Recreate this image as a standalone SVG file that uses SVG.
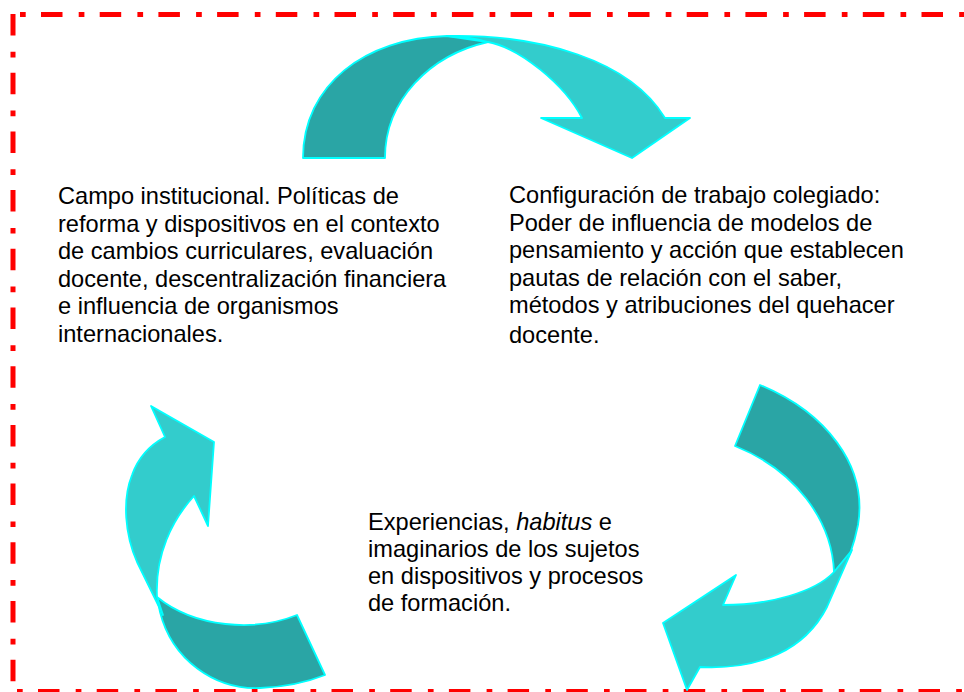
<svg xmlns="http://www.w3.org/2000/svg" width="964" height="692" viewBox="0 0 964 692">
<style>
.brd{stroke:#FF0000;stroke-width:5;fill:none}
.dk{fill:#2AA5A5;stroke:#00FFFF;stroke-width:1.8;stroke-linejoin:round}
.lt{fill:#33CCCC;stroke:#00FFFF;stroke-width:1.8;stroke-linejoin:round}
.t{font-family:"Liberation Sans",Arial,sans-serif;font-size:23.6px;fill:#000}
</style>
<rect width="964" height="692" fill="#fff"/>
<g id="border">
<line class="brd" x1="20" y1="14.5" x2="964" y2="14.5" stroke-dasharray="5.7 15.3 21.5 16.2"/>
<line class="brd" x1="13" y1="14" x2="13" y2="692" stroke-dasharray="21.5 16.3 5.7 15.2"/>
<line class="brd" x1="17" y1="691.5" x2="964" y2="691.5" stroke-dasharray="5.7 15.3 21.5 16.2"/>
</g>
<g id="connectors">
<g id="arrow-top">
<path class="dk" d="M303,158 C303,85 365,38 447,36 L488,42 C430,55 385,100 385,158 Z"/>
<path class="lt" d="M447,36 C540,34 630,60 665,118 L690,118 L632,158 L541,118 L582,118 C565,85 520,48 488,42 Q470,37 447,36 Z"/>
</g>
<g id="arrow-right">
<path class="dk" d="M760,385 C825,412 868,465 858,525 Q855,540 850,554 L834,572 C832,520 795,470 735,446 Z"/>
<path class="lt" d="M852,550 L827,607 C805,650 760,670 700,667 L687,690 L663,623 L736,575 L723,605 C770,605 815,592 834,572 Z"/>
</g>
<g id="arrow-left">
<path class="dk" d="M297,615 C255,632 195,628 157,597 L160,612 C172,660 215,690 260,688 C285,687 305,683 325,675 Z"/>
<path class="lt" d="M163,615 L137,562 C125,535 122,500 132,475 C138,458 150,445 165,437 L151,406 L214,442 L208,526 L194,496 C172,520 155,555 157,597 Z"/>
</g>
</g>
<g id="node-institucional">
<text class="t" x="58" y="204">Campo institucional. Políticas de</text>
<text class="t" x="58" y="231.5">reforma y dispositivos en el contexto</text>
<text class="t" x="58" y="259">de cambios curriculares, evaluación</text>
<text class="t" x="58" y="286.5">docente, descentralización financiera</text>
<text class="t" x="58" y="314">e influencia de organismos</text>
<text class="t" x="58" y="341.5">internacionales.</text>
</g>
<g id="node-colegiado">
<text class="t" x="509" y="203">Configuración de trabajo colegiado:</text>
<text class="t" x="509" y="230.5">Poder de influencia de modelos de</text>
<text class="t" x="509" y="258">pensamiento y acción que establecen</text>
<text class="t" x="509" y="285.5">pautas de relación con el saber,</text>
<text class="t" x="509" y="313">métodos y atribuciones del quehacer</text>
<text class="t" x="509" y="343">docente.</text>
</g>
<g id="node-experiencias">
<text class="t" x="368" y="530">Experiencias, <tspan font-style="italic">habitus</tspan> e</text>
<text class="t" x="368" y="557">imaginarios de los sujetos</text>
<text class="t" x="368" y="584">en dispositivos y procesos</text>
<text class="t" x="368" y="611">de formación.</text>
</g>
</svg>
